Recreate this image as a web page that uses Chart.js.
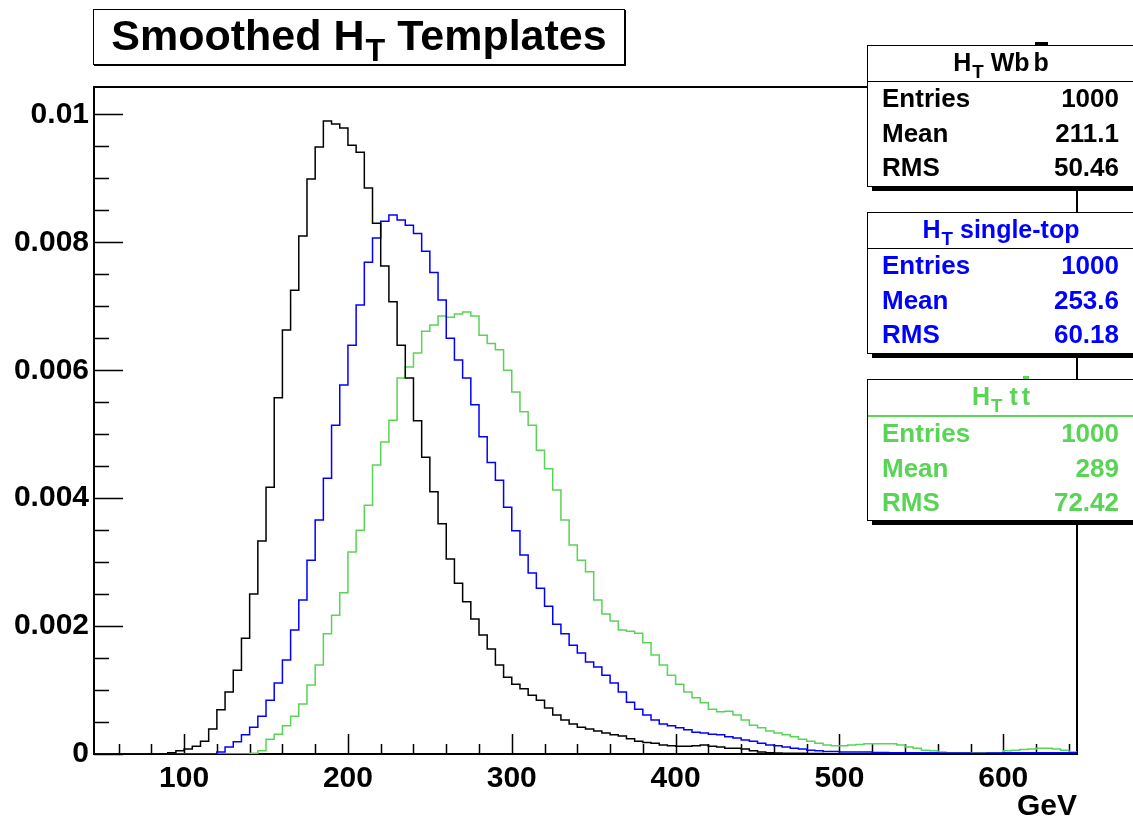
<!DOCTYPE html>
<html>
<head>
<meta charset="utf-8">
<title>Smoothed HT Templates</title>
<script src="https://cdn.jsdelivr.net/npm/chart.js@4.4.1/dist/chart.umd.min.js"></script>
<style>
  html, body { margin: 0; padding: 0; background: #fff; overflow: hidden; }
  #page { position: relative; width: 1133px; height: 819px; overflow: hidden;
          font-family: "Liberation Sans", Arial, Helvetica, sans-serif; font-weight: bold; }
  #chart { position: absolute; left: 0; top: 0; }
  .sub { font-size: 0.75em; position: relative; top: 0.35em; margin-left: 1px; }
  #title { position: absolute; left: 93px; top: 9px; width: 530px; height: 54px; border: 1px solid #000;
           box-shadow: 1px 1px 0 #000; background: #fff; font-size: 43px; line-height: 50px;
           text-align: center; white-space: nowrap; }
  .stat { position: absolute; left: 867px; width: 300px; height: 142px; box-sizing: border-box;
          border: 1px solid #000; background: #fff; box-shadow: 5px 4px 0 #000; }
  .stat .head { width: 266px; height: 35px; line-height: 33px; text-align: center; font-size: 25px;
                border-bottom: 1px solid #000; white-space: nowrap; }
  .stat .row { width: 237px; margin-left: 14px; height: 34.5px; line-height: 33px; font-size: 26px;
               display: flex; justify-content: space-between; }
  .bar { position: relative; margin-left: 4px; }
  .bar::before { content: ''; position: absolute; left: 1px; right: 1px; top: -6px; height: 3px; background: currentColor; }
</style>
</head>
<body>
<div id="page">
  <canvas id="chart" width="1133" height="819"></canvas>
  <div id="title">Smoothed H<span class="sub">T</span> Templates</div>
</div>
<script>
// histogram binning (GeV)
const xMin = 45;
const xMax = 645;
const binWidth = 5;
const yUnit = 0.001;
const yMax = 0.01043;

// bin contents in units of 1e-3, bins of 5 GeV starting at 45 GeV
const wbbValues = [
  0, 0, 0, 0, 0, 0, 0, 0, 0.005, 0.02,
  0.05, 0.08, 0.12, 0.2, 0.39, 0.69, 0.97, 1.31, 1.81, 2.50,
  3.33, 4.17, 5.57, 6.63, 7.25, 8.10, 8.99, 9.49, 9.90, 9.85,
  9.79, 9.52, 9.41, 8.85, 8.30, 7.63, 7.07, 6.39, 5.88, 5.21,
  4.64, 4.10, 3.60, 3.05, 2.67, 2.38, 2.11, 1.86, 1.64, 1.39,
  1.20, 1.09, 1.02, 0.92, 0.84, 0.72, 0.61, 0.53, 0.47, 0.42,
  0.39, 0.36, 0.33, 0.30, 0.28, 0.24, 0.20, 0.18, 0.17, 0.14,
  0.13, 0.12, 0.12, 0.13, 0.14, 0.12, 0.11, 0.09, 0.09, 0.08,
  0.05, 0.03, 0.02, 0.015, 0.01, 0.01, 0.01, 0.008, 0.006, 0.005,
  0.004, 0.003, 0.002, 0.002, 0.001, 0, 0, 0, 0, 0,
  0, 0, 0, 0, 0, 0, 0, 0, 0, 0,
  0, 0, 0, 0, 0, 0, 0, 0, 0, 0
];
const singleTopValues = [
  0, 0, 0, 0, 0, 0, 0, 0, 0, 0,
  0, 0, 0, 0, 0, 0.03, 0.11, 0.19, 0.30, 0.42,
  0.59, 0.84, 1.11, 1.47, 1.94, 2.41, 3.03, 3.66, 4.31, 5.14,
  5.77, 6.39, 7.02, 7.69, 8.07, 8.33, 8.43, 8.35, 8.27, 8.14,
  7.86, 7.53, 7.10, 6.50, 6.16, 5.88, 5.46, 4.96, 4.56, 4.28,
  3.86, 3.49, 3.11, 2.83, 2.59, 2.31, 2.03, 1.88, 1.70, 1.58,
  1.44, 1.36, 1.23, 1.11, 0.97, 0.81, 0.70, 0.61, 0.53, 0.47,
  0.44, 0.41, 0.38, 0.34, 0.33, 0.31, 0.30, 0.27, 0.25, 0.22,
  0.20, 0.17, 0.14, 0.13, 0.11, 0.09, 0.08, 0.06, 0.05, 0.04,
  0.04, 0.03, 0.03, 0.03, 0.03, 0.025, 0.025, 0.02, 0.02, 0.02,
  0.02, 0.02, 0.02, 0.015, 0.015, 0.015, 0.015, 0.01, 0.01, 0.015,
  0.015, 0.02, 0.02, 0.02, 0.02, 0.02, 0.02, 0.02, 0.02, 0.02
];
const ttbarValues = [
  0, 0, 0, 0, 0, 0, 0, 0, 0, 0,
  0, 0, 0, 0, 0, 0, 0, 0, 0, 0.01,
  0.05, 0.23, 0.31, 0.44, 0.59, 0.78, 1.08, 1.39, 1.88, 2.17,
  2.52, 3.16, 3.50, 3.89, 4.52, 4.88, 5.22, 5.88, 6.05, 6.27,
  6.61, 6.71, 6.85, 6.83, 6.88, 6.91, 6.85, 6.55, 6.42, 6.32,
  6.00, 5.66, 5.35, 5.14, 4.75, 4.46, 4.13, 3.66, 3.27, 3.03,
  2.85, 2.41, 2.19, 2.08, 1.94, 1.92, 1.89, 1.74, 1.55, 1.39,
  1.23, 1.09, 0.97, 0.88, 0.80, 0.70, 0.66, 0.67, 0.61, 0.53,
  0.45, 0.41, 0.36, 0.33, 0.30, 0.27, 0.23, 0.20, 0.17, 0.14,
  0.13, 0.13, 0.14, 0.15, 0.16, 0.16, 0.16, 0.16, 0.14, 0.11,
  0.09, 0.06, 0.05, 0.03, 0.02, 0.02, 0.02, 0.02, 0.02, 0.02,
  0.02, 0.05, 0.06, 0.07, 0.08, 0.09, 0.09, 0.08, 0.06, 0.03
];

const xTicks = [100, 200, 300, 400, 500, 600];
const yTicks = [0, 0.002, 0.004, 0.006, 0.008, 0.01];
const yTickLabels = ['0', '0.002', '0.004', '0.006', '0.008', '0.01'];

// stat boxes
const statTitles = [
  'H<span class="sub">T</span> Wb<span class="bar">b</span>',
  'H<span class="sub">T</span> single-top',
  'H<span class="sub">T</span> t<span class="bar">t</span>'
];
const statEntries = ['1000', '1000', '1000'];
const statMeans = ['211.1', '253.6', '289'];
const statRms = ['50.46', '60.18', '72.42'];
const colors = ['#000000', '#0000ff', '#59d454'];

function histPoints(vals) {
  const pts = vals.map((v, i) => ({ x: xMin + i * binWidth, y: v * yUnit }));
  pts.push({ x: xMin + vals.length * binWidth, y: vals[vals.length - 1] * yUnit });
  return pts;
}

const labelFont = { family: '"Liberation Sans", Arial, sans-serif', weight: 'bold', size: 30 };

// frame and ROOT style inner tick marks
const rootFrame = {
  id: 'rootFrame',
  beforeDatasetsDraw(chart) {
    const { ctx, chartArea: a, scales: { x, y } } = chart;
    ctx.save();
    ctx.strokeStyle = '#000';
    ctx.lineWidth = 1.5;
    ctx.beginPath();
    for (let v = Math.ceil(xMin / 20) * 20; v <= xMax; v += 20) {
      const px = Math.round(x.getPixelForValue(v)) + 0.5;
      const len = v % 100 === 0 ? 20 : 10;
      ctx.moveTo(px, a.bottom);
      ctx.lineTo(px, a.bottom - len);
    }
    for (let k = 0; k * 0.0005 <= yMax; k++) {
      const py = Math.round(y.getPixelForValue(k * 0.0005)) + 0.5;
      const len = k % 4 === 0 ? 29 : 15;
      ctx.moveTo(a.left, py);
      ctx.lineTo(a.left + len, py);
    }
    ctx.stroke();
    ctx.lineWidth = 2;
    ctx.strokeRect(a.left, a.top, a.right - a.left, a.bottom - a.top);
    ctx.restore();
  }
};

const ctx = document.getElementById('chart').getContext('2d');
new Chart(ctx, {
  type: 'line',
  data: {
    datasets: [
      { label: 'HT Wbb', data: histPoints(wbbValues), borderColor: colors[0] },
      { label: 'HT single-top', data: histPoints(singleTopValues), borderColor: colors[1] },
      { label: 'HT tt', data: histPoints(ttbarValues), borderColor: colors[2] }
    ]
  },
  options: {
    responsive: false,
    animation: false,
    layout: { padding: { top: 87, right: 56, left: 0, bottom: 0 } },
    elements: {
      point: { radius: 0 },
      line: { borderWidth: 1.5, stepped: 'before', fill: false, tension: 0 }
    },
    plugins: { legend: { display: false }, tooltip: { enabled: false } },
    scales: {
      x: {
        type: 'linear',
        min: xMin,
        max: xMax,
        afterBuildTicks: s => { s.ticks = xTicks.map(v => ({ value: v })); },
        afterFit: s => { s.height = 65; },
        grid: { display: false, drawTicks: false },
        border: { display: false },
        ticks: { color: '#000', font: labelFont, padding: 7, maxRotation: 0, autoSkip: false },
        title: {
          display: true, text: 'GeV', align: 'end', color: '#000',
          font: { family: '"Liberation Sans", Arial, sans-serif', weight: 'bold', size: 30, lineHeight: 0.8 },
          padding: 0
        }
      },
      y: {
        min: 0,
        max: yMax,
        afterBuildTicks: s => { s.ticks = yTicks.map(v => ({ value: v })); },
        afterFit: s => { s.width = 94; },
        grid: { display: false, drawTicks: false },
        border: { display: false },
        ticks: { color: '#000', font: labelFont, padding: 5, callback: (v, i) => yTickLabels[i] }
      }
    }
  },
  plugins: [rootFrame]
});

// build stat boxes from the arrays
const page = document.getElementById('page');
statTitles.forEach((t, i) => {
  const box = document.createElement('div');
  box.className = 'stat';
  box.style.top = (45 + i * 167) + 'px';
  box.style.color = colors[i];
  const rows = [['Entries', statEntries[i]], ['Mean', statMeans[i]], ['RMS', statRms[i]]];
  box.innerHTML = '<div class="head">' + t + '</div>' +
    rows.map(r => '<div class="row"><span>' + r[0] + '</span><span>' + r[1] + '</span></div>').join('');
  if (i === 2) box.querySelector('.head').style.borderBottom = '2px solid ' + colors[2];
  page.appendChild(box);
});
</script>
</body>
</html>
